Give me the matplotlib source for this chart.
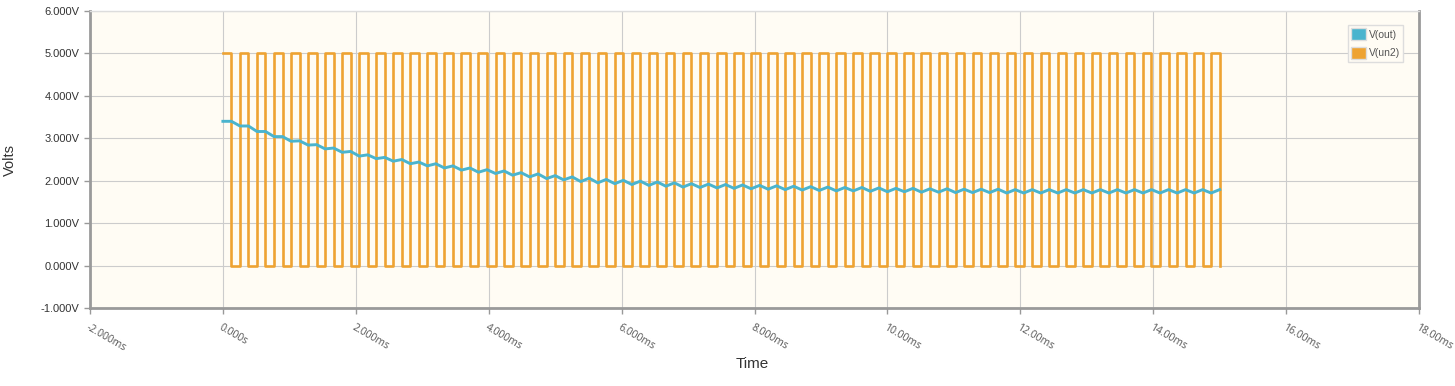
import numpy as np
import matplotlib
matplotlib.use("Agg")
import matplotlib.pyplot as plt
from matplotlib.patches import Patch

# pulse source V(un2): starts high at 0 s, 59 pulses, last one falls at 15 ms
pulse_high = 5.0
pulse_low = 0.0
pulse_count = 59
pulse_period_ms = 15.0 / 58.5

# V(out): value at the start of each high (trough)
# and at the end of each high (peak), one per pulse
v_out_lo = [3.40, 3.29, 3.16, 3.04, 2.93, 2.84, 2.75, 2.67, 2.58, 2.52,
            2.46, 2.40, 2.35, 2.30, 2.25, 2.20, 2.17, 2.13, 2.09, 2.05,
            2.02, 1.98, 1.95, 1.93, 1.91, 1.89, 1.87, 1.85, 1.84, 1.83,
            1.82, 1.81, 1.80, 1.79, 1.78, 1.77, 1.76, 1.76, 1.75, 1.74,
            1.74, 1.73, 1.73, 1.72, 1.72, 1.72, 1.71, 1.71, 1.71, 1.71,
            1.71, 1.71, 1.71, 1.71, 1.71, 1.71, 1.71, 1.71, 1.71]
v_out_hi = [3.40, 3.29, 3.16, 3.04, 2.94, 2.85, 2.77, 2.69, 2.61, 2.55,
            2.50, 2.44, 2.40, 2.35, 2.30, 2.26, 2.23, 2.19, 2.16, 2.12,
            2.09, 2.06, 2.03, 2.01, 1.99, 1.97, 1.95, 1.93, 1.92, 1.91,
            1.90, 1.89, 1.88, 1.87, 1.86, 1.85, 1.84, 1.84, 1.83, 1.82,
            1.82, 1.81, 1.81, 1.80, 1.80, 1.80, 1.79, 1.79, 1.79, 1.79,
            1.79, 1.79, 1.79, 1.79, 1.79, 1.79, 1.79, 1.79, 1.79]

x_ticks = [-2, 0, 2, 4, 6, 8, 10, 12, 14, 16, 18]
x_labels = ["-2.000ms", "0.000s", "2.000ms", "4.000ms", "6.000ms", "8.000ms",
            "10.00ms", "12.00ms", "14.00ms", "16.00ms", "18.00ms"]
y_ticks = [-1, 0, 1, 2, 3, 4, 5, 6]
y_labels = ["-1.000V", "0.000V", "1.000V", "2.000V", "3.000V", "4.000V",
            "5.000V", "6.000V"]

# edge times: start and end of every high
t_edges = []
v_sq = []
v_out = []
for k in range(pulse_count):
    t_edges += [k * pulse_period_ms, k * pulse_period_ms + pulse_period_ms / 2]
    v_sq += [pulse_high, pulse_low]
    v_out += [v_out_lo[k], v_out_hi[k]]

orange = "#EEA332"
blue = "#4AB4CE"

fig = plt.figure(figsize=(14.55, 3.86), dpi=100)
ax = fig.add_axes([90 / 1455, 78 / 386, 1329 / 1455, 297 / 386])
ax.set_facecolor("#FFFCF4")

ax.plot(t_edges, v_sq, drawstyle="steps-post", color=orange, lw=1.9, zorder=3)
ax.plot(t_edges, v_out, color=blue, lw=2.1, zorder=4)

ax.set_xlim(-2, 18)
ax.set_ylim(-1, 6)
ax.set_xticks(x_ticks)
ax.set_xticklabels(x_labels, rotation=-30, ha="left", va="top",
                   rotation_mode="anchor", family="Open Sans", fontsize=7.5,
                   color="#555555")
ax.set_yticks(y_ticks)
ax.set_yticklabels(y_labels, family="Liberation Sans", fontsize=8,
                   color="#333333")
ax.tick_params(axis="both", length=4, width=1, color="#999999")
ax.tick_params(axis="x", pad=6)
ax.grid(True, color="#cccccc", lw=0.8, zorder=0)
ax.set_axisbelow(True)

for side in ["left", "bottom", "right"]:
    ax.spines[side].set_color("#9a9a9a")
    ax.spines[side].set_linewidth(2)
ax.spines["top"].set_color("#dddddd")
ax.spines["top"].set_linewidth(1)

ax.set_ylabel("Volts", family="Liberation Sans", fontsize=10.5, color="#333333")
ax.yaxis.set_label_coords(-0.055, 0.5)
ax.set_xlabel("Time", family="Liberation Sans", fontsize=11, color="#333333")
ax.xaxis.set_label_coords(0.498, -0.165)

handles = [Patch(facecolor=blue, edgecolor="#dddddd", label="V(out)"),
           Patch(facecolor=orange, edgecolor="#dddddd", label="V(un2)")]
leg = ax.legend(handles=handles, loc="upper right", bbox_to_anchor=(0.992, 0.97),
                prop={"family": "Liberation Sans", "size": 7.5},
                handlelength=1.4, handleheight=1.4, handletextpad=0.3,
                borderpad=0.3, labelspacing=0.6, fancybox=False, framealpha=1)
leg.get_frame().set_edgecolor("#dddddd")
leg.get_frame().set_facecolor("#FFFCF4")
for txt in leg.get_texts():
    txt.set_color("#555555")

fig.savefig("out.png", dpi=100)
